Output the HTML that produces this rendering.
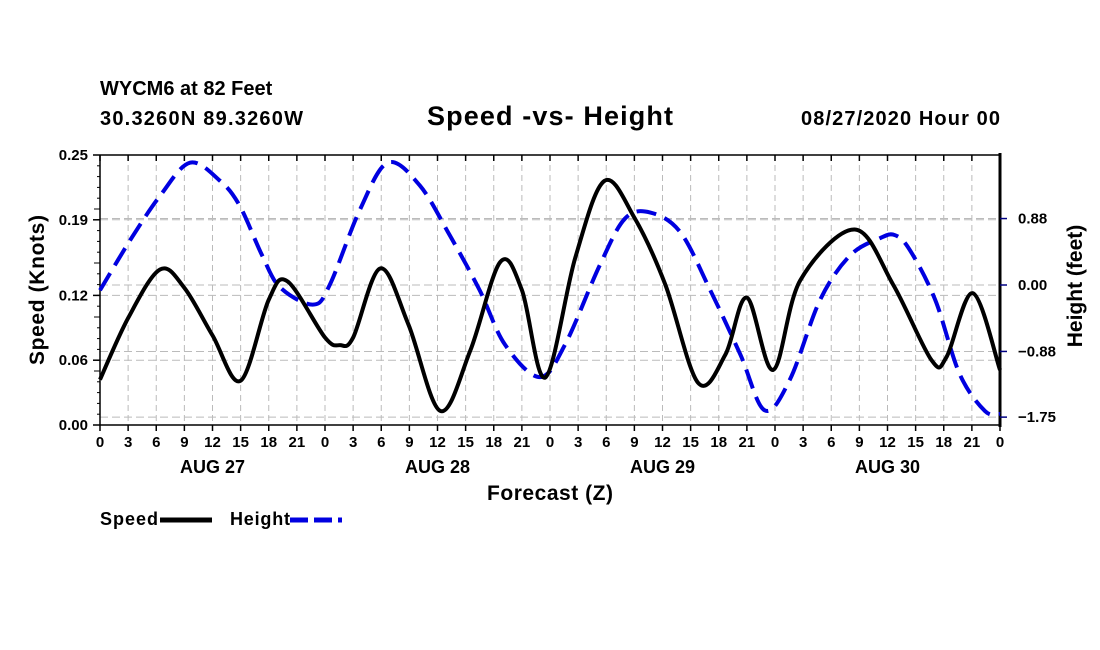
<!DOCTYPE html>
<html><head><meta charset="utf-8"><style>
body{margin:0;background:#fff;}
svg{display:block;font-family:"Liberation Sans",sans-serif;font-weight:bold;}
</style></head><body>
<svg id="chart" width="1100" height="650" viewBox="0 0 1100 650">
<text x="100" y="95" font-size="20">WYCM6 at 82 Feet</text>
<text x="100" y="125" font-size="20" textLength="203">30.3260N 89.3260W</text>
<text x="550" y="125" font-size="27" text-anchor="middle" textLength="246">Speed -vs- Height</text>
<text x="1000" y="125" font-size="20" text-anchor="end" textLength="199">08/27/2020 Hour 00</text>
<g id="grid"></g>
<g id="axes"></g>
<g id="series"></g>
<text x="44" y="290" font-size="21" text-anchor="middle" transform="rotate(-90 44 290)" textLength="150">Speed (Knots)</text>
<text x="1082" y="286" font-size="21" text-anchor="middle" transform="rotate(-90 1082 286)">Height (feet)</text>
<text x="550" y="500" font-size="21" text-anchor="middle" textLength="126">Forecast (Z)</text>
<g>
<text x="100" y="525" font-size="18" textLength="58">Speed</text>
<line x1="160" y1="520" x2="212" y2="520" stroke="#000" stroke-width="5"/>
<text x="230" y="525" font-size="18" textLength="60">Height</text>
<line x1="290" y1="520" x2="342" y2="520" stroke="#0000e0" stroke-width="5" stroke-dasharray="18,6"/>
</g>
</svg>
<script>
const speedHours=[0,3,6.4,9,12,15,18,20,24,25.6,27,29.9,32.9,36.3,39.5,42.7,45,47.5,50.7,53.8,57,60.3,63.8,66.7,69,71.8,74.7,80.5,84.6,88.7,90.3,93.1,96];
const speedValues=[0.042,0.099,0.144,0.127,0.083,0.041,0.116,0.133,0.081,0.074,0.081,0.145,0.093,0.013,0.069,0.151,0.125,0.044,0.155,0.226,0.192,0.130,0.039,0.065,0.118,0.051,0.134,0.181,0.130,0.060,0.063,0.122,0.051];
const heightHours=[0,3.2,6.4,9.6,12.8,14.9,17.3,19.2,22.7,24.5,27.7,30.7,34.1,37.3,40.5,43.2,46.9,49.6,53.3,56,58.7,61.9,65.1,68.3,70.9,73.6,76.8,80,83.2,84.8,86.4,89.1,91.7,94.4,96];
const heightValues=[-0.07,0.59,1.18,1.62,1.38,1.05,0.39,-0.03,-0.26,0,0.99,1.62,1.32,0.66,-0.07,-0.79,-1.22,-0.79,0.26,0.88,0.96,0.70,-0.07,-0.92,-1.66,-1.25,-0.20,0.39,0.62,0.66,0.46,-0.20,-1.18,-1.67,-1.71];
const leftTicks=[0,0.06,0.12,0.19,0.25];
const leftTickLabels=["0.00","0.06","0.12","0.19","0.25"];
const rightTicks=[0.88,0,-0.88,-1.75];
const rightTickLabels=["0.88","0.00","\u22120.88","\u22121.75"];
const hourLabels=["0","3","6","9","12","15","18","21"];
const dayLabels=["AUG 27","AUG 28","AUG 29","AUG 30"];

const X0=100,X1=1000,Y0=155,Y1=425;
const xs=h=>X0+(X1-X0)*h/96;
const ysL=v=>Y1-(Y1-Y0)*v/0.25;
const ysR=v=>285-v*75.5;
const NS='http://www.w3.org/2000/svg';
function mk(tag,attrs,parent){const e=document.createElementNS(NS,tag);for(const k in attrs)e.setAttribute(k,attrs[k]);parent.appendChild(e);return e;}
const grid=document.getElementById('grid'),axes=document.getElementById('axes'),series=document.getElementById('series');

for(let h=3;h<96;h+=3){
  const l=mk('line',{x1:xs(h),x2:xs(h),y1:Y0,y2:Y1,stroke:'#bbb','stroke-width':1,'stroke-dasharray':'6,4'},grid);
  
  
}
leftTicks.forEach(v=>{if(v>0&&v<0.25){const l=mk('line',{x1:X0,x2:X1,y1:ysL(v),y2:ysL(v),stroke:'#bbb','stroke-width':1,'stroke-dasharray':'8,4'},grid);
  
  }});
rightTicks.forEach(v=>{const l=mk('line',{x1:X0,x2:X1,y1:ysR(v),y2:ysR(v),stroke:'#bbb','stroke-width':1,'stroke-dasharray':'8,4'},grid);
  
  });

mk('line',{x1:X0,x2:X1,y1:Y0,y2:Y0,stroke:'#000','stroke-width':1.5},axes);
mk('line',{x1:X0,x2:X1,y1:Y1,y2:Y1,stroke:'#000','stroke-width':1.5},axes);
mk('line',{x1:X0,x2:X0,y1:Y0,y2:Y1,stroke:'#000','stroke-width':1.5},axes);
mk('line',{x1:X1,x2:X1,y1:Y0-2,y2:Y1+2,stroke:'#000','stroke-width':3},axes);
for(let i=0;i<=25;i++){const v=i*0.01;const y=ysL(v);mk('line',{x1:X0-(i%5==0?6:3),x2:X0,y1:y,y2:y,stroke:'#000','stroke-width':1},axes);}
leftTicks.forEach((v,i)=>{const y=ysL(v);mk('line',{x1:X0-7,x2:X0,y1:y,y2:y,stroke:'#000','stroke-width':1.5},axes);
  const t=mk('text',{x:X0-12,y:y+5,'font-size':15,'text-anchor':'end'},axes);t.textContent=leftTickLabels[i];
  
  });
rightTicks.forEach((v,i)=>{const y=ysR(v);mk('line',{x1:X1,x2:X1+7,y1:y,y2:y,stroke:'#000080','stroke-width':1.5},axes);
  const t=mk('text',{x:X1+18,y:y+5,'font-size':15},axes);t.textContent=rightTickLabels[i];
  
  });
for(let h=0;h<=96;h+=3){const x=xs(h);
  mk('line',{x1:x,x2:x,y1:Y1,y2:Y1+6,stroke:'#000','stroke-width':1.5},axes);
  mk('line',{x1:x,x2:x,y1:Y0,y2:Y0+6,stroke:'#000','stroke-width':1.5},axes);
  const t=mk('text',{x:x,y:Y1+22,'font-size':15,'text-anchor':'middle'},axes);t.textContent=hourLabels[(h%24)/3];
  
  }
dayLabels.forEach((d,i)=>{const t=mk('text',{x:xs(i*24+12),y:Y1+48,'font-size':18,'text-anchor':'middle'},axes);t.textContent=d;
  
  });

function smooth(pts){let d='M'+pts[0][0]+','+pts[0][1];
  for(let i=0;i<pts.length-1;i++){const p0=pts[Math.max(0,i-1)],p1=pts[i],p2=pts[i+1],p3=pts[Math.min(pts.length-1,i+2)];
    const c1=[p1[0]+(p2[0]-p0[0])/6,p1[1]+(p2[1]-p0[1])/6],c2=[p2[0]-(p3[0]-p1[0])/6,p2[1]-(p3[1]-p1[1])/6];
    d+=' C'+c1[0]+','+c1[1]+' '+c2[0]+','+c2[1]+' '+p2[0]+','+p2[1];}
  return d;}
const hp=mk('path',{d:smooth(heightHours.map((h,i)=>[xs(h),ysR(heightValues[i])])),fill:'none',stroke:'#0000e0','stroke-width':4,'stroke-dasharray':'20,9'},series);


const sp=mk('path',{d:smooth(speedHours.map((h,i)=>[xs(h),ysL(speedValues[i])])),fill:'none',stroke:'#000','stroke-width':4},series);


</script>
</body></html>
